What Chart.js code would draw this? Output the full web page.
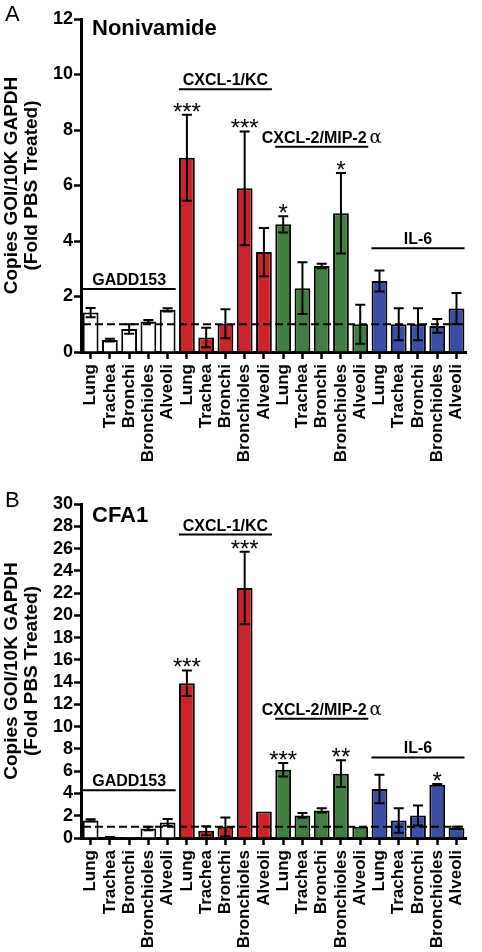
<!DOCTYPE html>
<html lang="en">
<head>
<meta charset="UTF-8">
<title>Nonivamide / CFA1 gene expression</title>
<script src="https://cdn.jsdelivr.net/npm/chart.js"></script>
<style>
  body { margin: 0; background: #fff; }
  .panel { position: relative; width: 482px; height: 476px; }
</style>
</head>
<body>
<div class="panel"><canvas id="chartA" width="482" height="476"></canvas></div>
<div class="panel"><canvas id="chartB" width="482" height="476"></canvas></div>
<script>
// categories
const tissues = ['Lung', 'Trachea', 'Bronchi', 'Bronchioles', 'Alveoli'];
const genes = ['GADD153', 'CXCL-1/KC', 'CXCL-2/MIP-2', 'IL-6'];
const geneSuffix = ['', '', '\u03b1', ''];
const labels = genes.flatMap(() => tissues);

// panel A: Nonivamide (fold PBS), order GADD153, CXCL-1, CXCL-2, IL-6
const noniMean = [1.42, 0.43, 0.83, 1.10, 1.52,
                  7.00, 0.52, 1.02, 5.90, 3.60,
                  4.60, 2.30, 3.10, 5.00, 1.00,
                  2.56, 1.00, 1.00, 0.94, 1.57];
const noniErr  = [0.17, 0.05, 0.17, 0.05, 0.06,
                  1.55, 0.35, 0.52, 2.05, 0.87,
                  0.29, 0.93, 0.08, 1.45, 0.70,
                  0.38, 0.58, 0.58, 0.25, 0.56];
const noniStars = ['', '', '', '', '',
                   '***', '', '', '***', '',
                   '*', '', '', '*', '',
                   '', '', '', '', ''];
const noniGroupY = [2.27, 9.47, 7.4, 3.74];
const noniTicks = [0, 2, 4, 6, 8, 10, 12];

// panel B: CFA1
const cfaMean = [1.58, 0.05, 0.02, 0.85, 1.40,
                 13.9, 0.65, 1.00, 22.45, 2.39,
                 6.13, 2.03, 2.48, 5.78, 1.00,
                 4.40, 1.58, 2.03, 4.79, 0.90];
const cfaErr  = [0.10, 0.03, 0.00, 0.15, 0.30,
                 1.15, 0.40, 0.85, 3.25, 0.00,
                 0.60, 0.22, 0.20, 1.20, 0.00,
                 1.27, 1.10, 0.90, 0.05, 0.10];
const cfaStars = ['', '', '', '', '',
                  '***', '', '', '***', '',
                  '***', '', '', '**', '',
                  '', '', '', '*', ''];
const cfaGroupY = [4.28, 27.25, 10.7, 7.24];
const cfaTicks = [0, 2, 4, 6, 8, 10, 12, 14, 16, 18, 20, 22, 24, 26, 28, 30];

const geneColors = ['#ffffff', '#cc2229', '#3f7f3f', '#3b4ea6'];
const FONT = '"Liberation Sans", Arial, sans-serif';

const annotate = {
  id: 'annotate',
  afterDatasetsDraw(chart, args, opts) {
    const { ctx, chartArea, scales: { x, y } } = chart;
    ctx.save();
    ctx.strokeStyle = '#000';
    ctx.fillStyle = '#000';

    // dashed line at fold = 1
    const y1 = y.getPixelForValue(1);
    ctx.lineWidth = 2;
    ctx.setLineDash([8, 4]);
    ctx.beginPath();
    ctx.moveTo(chartArea.left + 2, y1);
    ctx.lineTo(chartArea.right, y1);
    ctx.stroke();
    ctx.setLineDash([]);

    // error bars + significance stars
    opts.means.forEach((m, i) => {
      const e = opts.errs[i];
      const cx = x.getPixelForValue(i);
      const top = y.getPixelForValue(m + e);
      const bot = y.getPixelForValue(Math.max(m - e, 0));
      if (e > 0) {
        ctx.lineWidth = 2;
        ctx.beginPath();
        ctx.moveTo(cx, top); ctx.lineTo(cx, bot);
        ctx.moveTo(cx - 5, top); ctx.lineTo(cx + 5, top);
        ctx.moveTo(cx - 5, bot); ctx.lineTo(cx + 5, bot);
        ctx.stroke();
      }
      if (opts.stars[i]) {
        ctx.font = '24px ' + FONT;
        ctx.textAlign = 'center';
        ctx.textBaseline = 'alphabetic';
        ctx.fillText(opts.stars[i], cx, top + 5);
      }
    });

    // gene group brackets
    genes.forEach((g, k) => {
      const x0 = x.getPixelForValue(k * 5) - 8;
      const x1 = x.getPixelForValue(k * 5 + 4) + 8;
      const gy = y.getPixelForValue(opts.groupY[k]);
      ctx.lineWidth = 2;
      ctx.beginPath();
      ctx.moveTo(x0, gy); ctx.lineTo(x1, gy);
      ctx.stroke();
      ctx.textBaseline = 'alphabetic';
      ctx.font = 'bold 16px ' + FONT;
      const w1 = ctx.measureText(g).width;
      let w2 = 0;
      if (geneSuffix[k]) {
        ctx.font = '18px "DejaVu Serif", serif';
        w2 = ctx.measureText(geneSuffix[k]).width + 3;
      }
      const start = (x0 + x1) / 2 - (w1 + w2) / 2;
      ctx.textAlign = 'left';
      ctx.font = 'bold 16px ' + FONT;
      ctx.fillText(g, start, gy - 4);
      if (geneSuffix[k]) {
        ctx.font = '18px "DejaVu Serif", serif';
        ctx.fillText(geneSuffix[k], start + w1 + 3, gy - 4);
      }
    });

    // panel letter and title
    ctx.textAlign = 'left';
    ctx.font = '22px ' + FONT;
    ctx.fillText(opts.letter, 5, opts.letterY);
    ctx.font = 'bold 22px ' + FONT;
    ctx.fillText(opts.title, 92, opts.titleY);
    ctx.restore();
  }
};

function makeChart(id, means, errs, stars, groupY, ticks, padTop, xHeight, letter, letterY, title, titleY) {
  const colors = means.map((_, i) => geneColors[Math.floor(i / 5)]);
  return new Chart(document.getElementById(id), {
    type: 'bar',
    data: {
      labels: labels,
      datasets: [{
        data: means,
        backgroundColor: colors,
        borderColor: '#000',
        borderWidth: 2,
        borderSkipped: 'bottom',
        barPercentage: 0.82,
        categoryPercentage: 1.0
      }]
    },
    options: {
      responsive: false,
      animation: false,
      layout: { padding: { top: padTop, right: 4, left: 0, bottom: 0 } },
      plugins: {
        legend: { display: false },
        tooltip: { enabled: false },
        annotate: { means, errs, stars, groupY, letter, letterY, title, titleY }
      },
      scales: {
        x: {
          afterFit(scale) { scale.height = xHeight; },
          grid: { display: true, drawOnChartArea: false, offset: false, tickLength: 7, tickWidth: 2.5, tickColor: '#000' },
          border: { display: true, color: '#000', width: 3 },
          ticks: {
            autoSkip: false, maxRotation: 90, minRotation: 90, padding: 5,
            color: '#000', font: { family: FONT, size: 17, weight: 'bold' }
          }
        },
        y: {
          min: 0,
          max: ticks[ticks.length - 1],
          afterFit(scale) { scale.width = 81; },
          afterBuildTicks(scale) { scale.ticks = ticks.map(v => ({ value: v })); },
          grid: { display: true, drawOnChartArea: false, tickLength: 7, tickWidth: 2.5, tickColor: '#000' },
          border: { display: true, color: '#000', width: 3 },
          ticks: {
            autoSkip: false, padding: 1,
            color: '#000', font: { family: FONT, size: 18, weight: 'bold' }
          },
          title: {
            display: true,
            text: ['Copies GOI/10K GAPDH', '(Fold PBS Treated)'],
            color: '#000',
            font: { family: FONT, size: 19, weight: 'bold', lineHeight: 1.05 },
            padding: { top: 2, bottom: 0 }
          }
        }
      }
    },
    plugins: [annotate]
  });
}

makeChart('chartA', noniMean, noniErr, noniStars, noniGroupY, noniTicks, 19, 124, 'A', 21, 'Nonivamide', 35);
makeChart('chartB', cfaMean, cfaErr, cfaStars, cfaGroupY, cfaTicks, 28, 114, 'B', 31, 'CFA1', 46);
</script>
</body>
</html>
